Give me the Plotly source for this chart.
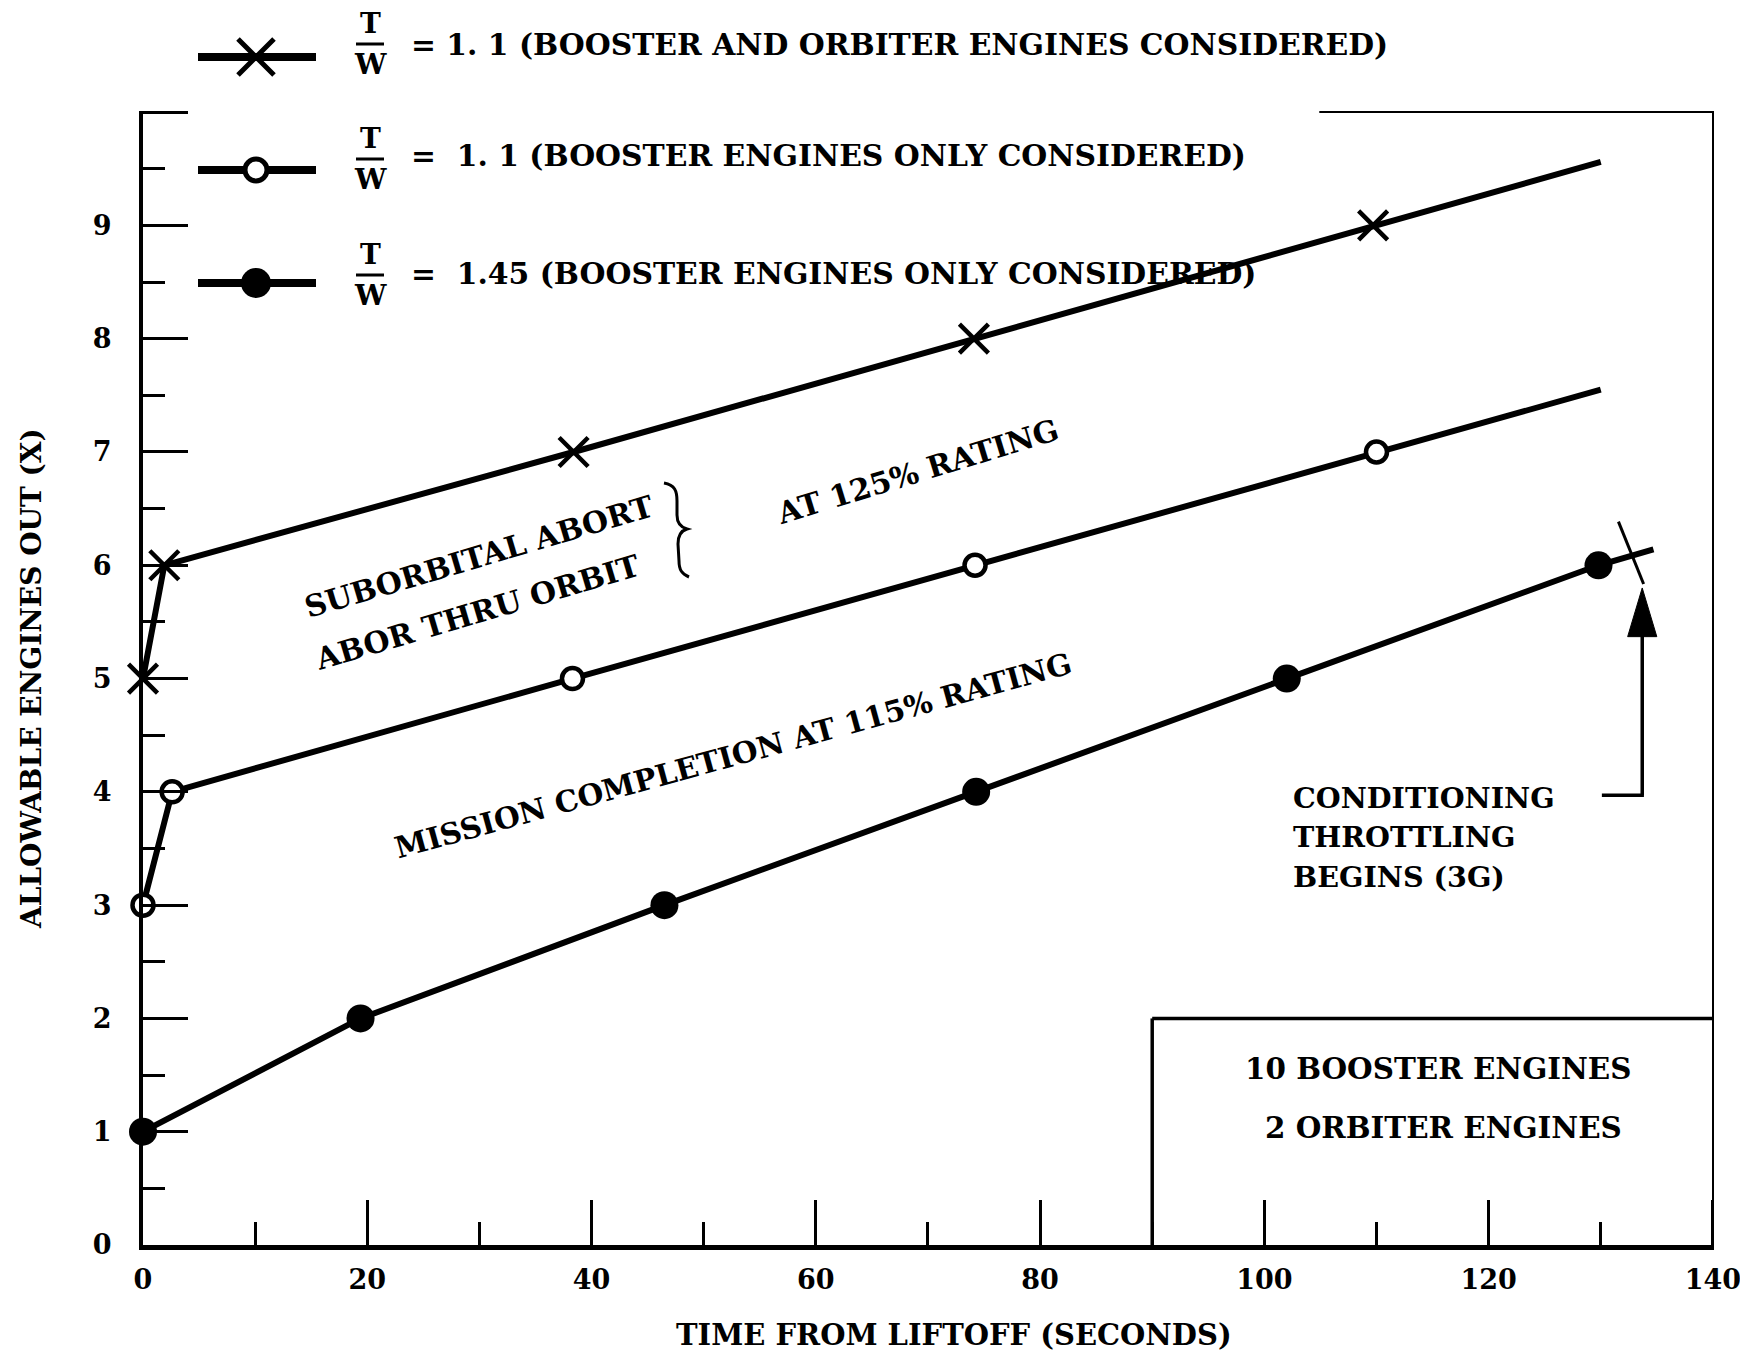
import plotly.graph_objects as go

W, H = 1740, 1356

# T/W = 1.1, booster and orbiter engines considered
t_bo = [0, 1.9, 38.4, 74.1, 109.7]
n_bo = [5, 6, 7, 8, 9]
t_bo_end, n_bo_end = 130.0, 9.56

# T/W = 1.1, booster engines only considered
t_b11 = [0, 2.6, 38.3, 74.2, 110.0]
n_b11 = [3, 4, 5, 6, 7]
t_b11_end, n_b11_end = 130.0, 7.55

# T/W = 1.45, booster engines only considered
t_b145 = [0, 19.4, 46.5, 74.3, 102.0, 129.8]
n_b145 = [1, 2, 3, 4, 5, 6]
t_b145_end, n_b145_end = 134.7, 6.14

# point where conditioning throttling begins (3 G)
t_throttle, n_throttle = 132.7, 6.11

x_tickvals = [0, 20, 40, 60, 80, 100, 120, 140]
x_minorvals = [10, 30, 50, 70, 90, 110, 130]
y_tickvals = list(range(0, 11))
y_ticktext = [str(v) for v in range(10)] + [""]
y_minorvals = [v + 0.5 for v in range(10)]

legend_labels = [
    "= 1. 1 (BOOSTER AND ORBITER ENGINES CONSIDERED)",
    "=  1. 1 (BOOSTER ENGINES ONLY CONSIDERED)",
    "=  1.45 (BOOSTER ENGINES ONLY CONSIDERED)",
]

FONT = "DejaVu Serif"
INK = "black"

# plot area in page pixels
PL, PR, PT, PB = 143, 1714, 111, 1245
X_MIN, X_MAX = 0.0, 140.1
Y_MIN, Y_MAX = 0.0, 10.01


def px(x):
    return x / W


def py(y):
    return 1 - y / H


fig = go.Figure()

# ---- series lines -------------------------------------------------------
line_style = dict(color=INK, width=6)
for ts, ns, te, ne in [
    (t_bo, n_bo, t_bo_end, n_bo_end),
    (t_b11, n_b11, t_b11_end, n_b11_end),
    (t_b145, n_b145, t_b145_end, n_b145_end),
]:
    fig.add_trace(go.Scatter(x=ts + [te], y=ns + [ne], mode="lines",
                             line=line_style, cliponaxis=False,
                             hoverinfo="skip", showlegend=False))

# ---- series markers -----------------------------------------------------
fig.add_trace(go.Scatter(
    x=t_bo, y=n_bo, mode="markers", cliponaxis=False, showlegend=False,
    marker=dict(symbol="x-thin", size=29, color=INK,
                line=dict(color=INK, width=4.5))))
fig.add_trace(go.Scatter(
    x=t_b11, y=n_b11, mode="markers", cliponaxis=False, showlegend=False,
    marker=dict(symbol="circle", size=21, color="white",
                line=dict(color=INK, width=4.5))))
fig.add_trace(go.Scatter(
    x=t_b145, y=n_b145, mode="markers", cliponaxis=False, showlegend=False,
    marker=dict(symbol="circle", size=28, color=INK,
                line=dict(color=INK, width=0))))
# throttling onset tick across the 1.45 curve
fig.add_trace(go.Scatter(
    x=[t_throttle], y=[n_throttle], mode="markers", cliponaxis=False,
    showlegend=False,
    marker=dict(symbol="line-ns", size=48, angle=-22, color=INK,
                line=dict(color=INK, width=3))))

# ---- legend samples on a full-page overlay ------------------------------
leg_line_y = [57, 170, 283]
leg_x0, leg_x1, leg_mx = 198, 316, 256
leg_markers = [
    dict(symbol="x-thin", size=36, color=INK, line=dict(color=INK, width=5)),
    dict(symbol="circle", size=22, color="white", line=dict(color=INK, width=5)),
    dict(symbol="circle", size=30, color=INK, line=dict(color=INK, width=0)),
]
for ly, mk in zip(leg_line_y, leg_markers):
    fig.add_trace(go.Scatter(
        x=[leg_x0, leg_x1], y=[ly, ly], mode="lines", xaxis="x2", yaxis="y2",
        line=dict(color=INK, width=8), showlegend=False, hoverinfo="skip"))
    fig.add_trace(go.Scatter(
        x=[leg_mx], y=[ly], mode="markers", xaxis="x2", yaxis="y2",
        marker=mk, showlegend=False, hoverinfo="skip"))

annotations = []
shapes = []

leg_text_y = [44, 156, 273]
leg_T_y = [23, 138, 254]
leg_W_y = [65, 180, 296]
leg_bar_y = [44, 159, 275]
for lab, ty, tt, tw, tb in zip(legend_labels, leg_text_y, leg_T_y, leg_W_y, leg_bar_y):
    annotations.append(dict(text=lab, x=px(409), y=py(ty), xref="paper", yref="paper",
                            xanchor="left", yanchor="middle", showarrow=False,
                            font=dict(family=FONT, size=29.8, color=INK, weight="bold")))
    annotations.append(dict(text="T", x=px(370), y=py(tt), xref="paper", yref="paper",
                            xanchor="center", yanchor="middle", showarrow=False,
                            font=dict(family=FONT, size=28, color=INK, weight="bold")))
    annotations.append(dict(text="W", x=px(370), y=py(tw), xref="paper", yref="paper",
                            xanchor="center", yanchor="middle", showarrow=False,
                            font=dict(family=FONT, size=28, color=INK, weight="bold")))
    shapes.append(dict(type="line", xref="paper", yref="paper",
                       x0=px(356), x1=px(384), y0=py(tb), y1=py(tb),
                       line=dict(color=INK, width=3)))

# ---- text inside the plot -----------------------------------------------
def note(text, x, y, angle=0, size=28, anchor="center"):
    annotations.append(dict(text=text, x=x, y=y, xref="x", yref="y",
                            xanchor=anchor, yanchor="middle", textangle=angle,
                            showarrow=False,
                            font=dict(family=FONT, size=size, color=INK, weight="bold")))


note("SUBORBITAL ABORT", 30.0, 6.08, angle=-16.5, size=30)
note("ABOR THRU ORBIT", 29.8, 5.58, angle=-16.5, size=30)
note("AT 125% RATING", 69.1, 6.83, angle=-17, size=30)
note("MISSION COMPLETION AT 115% RATING", 52.6, 4.32, angle=-15.4, size=29.6)
note("CONDITIONING", 102.4, 3.95, size=28.6, anchor="left")
note("THROTTLING", 102.4, 3.60, size=28.6, anchor="left")
note("BEGINS (3G)", 102.4, 3.25, size=28.6, anchor="left")
note("10 BOOSTER ENGINES", 115.5, 1.56, size=29.4)
note("2 ORBITER ENGINES", 116.0, 1.04, size=29.4)

# thin curly brace grouping the two abort labels (page pixel frame)
shapes.append(dict(
    type="path", xref="x2", yref="y2",
    path=("M 664,483 C 675,485 677,491 677,501 L 677,515 "
          "C 677,523 680,527 687,529 C 680,531 678,536 678,544 "
          "L 679,561 C 679,570 682,574 689,577"),
    line=dict(color=INK, width=3)))

# arrow pointing up to the throttling onset
arrow_x, arrow_tip, arrow_base = 133.7, 5.80, 3.97
head_len, head_half = 0.43, 1.3
shapes.append(dict(type="line", xref="x", yref="y", x0=arrow_x, x1=arrow_x,
                   y0=arrow_base, y1=arrow_tip - head_len * 0.8,
                   line=dict(color=INK, width=3.5)))
shapes.append(dict(
    type="path", xref="x", yref="y", fillcolor=INK, line=dict(color=INK, width=1),
    path=(f"M {arrow_x},{arrow_tip} L {arrow_x - head_half},{arrow_tip - head_len} "
          f"L {arrow_x + head_half},{arrow_tip - head_len} Z")))
shapes.append(dict(type="line", xref="x", yref="y", x0=130.1, x1=arrow_x + 0.15,
                   y0=arrow_base, y1=arrow_base, line=dict(color=INK, width=3.5)))

# inset box with engine counts
shapes.append(dict(type="line", xref="x", yref="y", x0=90, x1=X_MAX,
                   y0=2.0, y1=2.0, line=dict(color=INK, width=3.5)))
shapes.append(dict(type="line", xref="x", yref="y", x0=90, x1=90,
                   y0=0, y1=2.0, line=dict(color=INK, width=3.5)))

# right border and partial top border of the frame
shapes.append(dict(type="line", xref="x", yref="y", x0=X_MAX, x1=X_MAX,
                   y0=Y_MIN, y1=Y_MAX, line=dict(color=INK, width=4)))
shapes.append(dict(type="line", xref="x", yref="y", x0=104.9, x1=X_MAX,
                   y0=Y_MAX, y1=Y_MAX, line=dict(color=INK, width=4)))

# axis titles
annotations.append(dict(text="TIME FROM LIFTOFF (SECONDS)", x=px(954), y=py(1335),
                        xref="paper", yref="paper", showarrow=False,
                        xanchor="center", yanchor="middle",
                        font=dict(family=FONT, size=29, color=INK, weight="bold")))
annotations.append(dict(text="ALLOWABLE ENGINES OUT (X)", x=px(31), y=py(679),
                        xref="paper", yref="paper", showarrow=False, textangle=-90,
                        xanchor="center", yanchor="middle",
                        font=dict(family=FONT, size=28, color=INK, weight="bold")))

tick_font = dict(family=FONT, size=27, color=INK, weight="bold")

fig.update_layout(
    width=W, height=H,
    margin=dict(l=0, r=0, t=0, b=0, autoexpand=False),
    paper_bgcolor="white", plot_bgcolor="rgba(0,0,0,0)",
    showlegend=False,
    annotations=annotations,
    shapes=shapes,
    xaxis=dict(domain=[px(PL), px(PR)], range=[X_MIN, X_MAX], anchor="y",
               automargin=False, ticklabeloverflow="allow",
               tickmode="array", tickvals=x_tickvals, ticks="inside",
               ticklen=45, tickwidth=3, tickcolor=INK,
               minor=dict(tickmode="array", tickvals=x_minorvals, ticks="inside",
                          ticklen=23, tickwidth=3, tickcolor=INK),
               showline=True, linecolor=INK, linewidth=5,
               showgrid=False, zeroline=False, tickfont=tick_font,
               ticklabelstandoff=7),
    yaxis=dict(domain=[py(PB), py(PT)], range=[Y_MIN, Y_MAX], anchor="x",
               automargin=False, ticklabeloverflow="allow",
               tickmode="array", tickvals=y_tickvals, ticktext=y_ticktext,
               ticks="inside", ticklen=45, tickwidth=3, tickcolor=INK,
               minor=dict(tickmode="array", tickvals=y_minorvals, ticks="inside",
                          ticklen=22, tickwidth=3, tickcolor=INK),
               showline=True, linecolor=INK, linewidth=4,
               showgrid=False, zeroline=False, tickfont=tick_font,
               ticklabelstandoff=22),
    xaxis2=dict(domain=[0, 1], range=[0, W], anchor="y2", visible=False,
                fixedrange=True),
    yaxis2=dict(domain=[0, 1], range=[H, 0], anchor="x2", visible=False,
                fixedrange=True),
)

fig.write_html("out.html")
